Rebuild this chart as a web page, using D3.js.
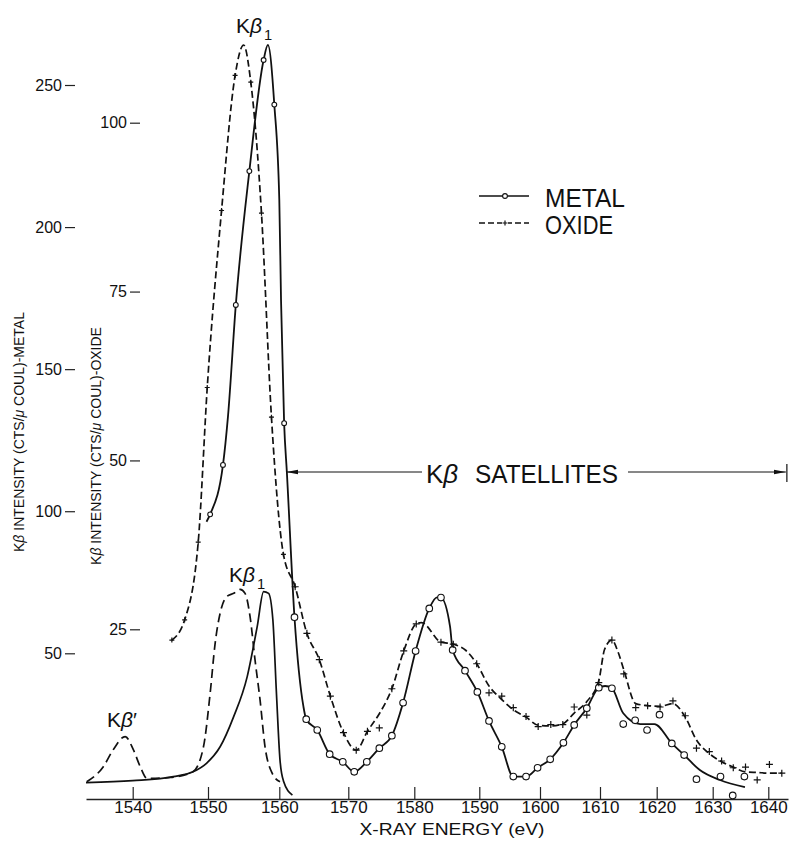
<!DOCTYPE html>
<html>
<head>
<meta charset="utf-8">
<script src="https://cdn.jsdelivr.net/npm/d3@7"></script>
<style>
  body { margin: 0; background: #fff; }
  text { font-family: "Liberation Sans", Arial, sans-serif; fill: #111; }
</style>
</head>
<body>
<div id="chart"></div>
<script>
var width = 791, height = 841;

// tick labels
var energyTicks = [1540, 1550, 1560, 1570, 1580, 1590, 1600, 1610, 1620, 1630, 1640];
var metalTicks = [50, 100, 150, 200, 250];
var oxideTicks = [25, 50, 75, 100];

// metal, satellite scan (cts / uCoul) - drawn curve
var metalCurveE = [1549.8, 1550.3, 1552.1, 1552.8, 1553.9, 1555.8, 1557.8, 1558.4, 1559.3, 1560.0, 1560.25, 1560.7, 1561.1,
  1562.2, 1563.5, 1563.9, 1565.5, 1567.3, 1569.2, 1570.9, 1572.8, 1574.7, 1576.6, 1578.3, 1580.2, 1582.3, 1583.5, 1584.1,
  1585.5, 1585.9, 1587.8, 1589.7, 1591.6, 1593.7, 1595.6, 1597.7, 1599.6, 1601.7, 1603.9, 1605.7, 1607.8, 1609.8, 1610.9,
  1612.1, 1614.1, 1617.1, 1619.6, 1622.7, 1624.9, 1627.7, 1631.3, 1635.8];
var metalCurveI = [96.3, 98.9, 116.3, 133.3, 172.6, 219.7, 258.8, 264.1, 243.1, 209.5, 174.3, 131.0, 113.6,
  62.7, 31.2, 26.8, 23.0, 14.5, 11.8, 8.3, 11.8, 16.6, 21.0, 32.6, 50.8, 65.8, 69.7, 69.6,
  59.4, 51.2, 43.9, 36.4, 26.2, 17.1, 6.6, 6.6, 9.7, 12.7, 18.5, 24.8, 30.7, 37.9, 38.5,
  37.7, 28.9, 25.1, 25.1, 18.3, 14.2, 8.9, 5.4, 2.9];

// metal, measured points
var metalPointE = [1550.3, 1552.1, 1553.9, 1555.8, 1557.8, 1559.3, 1560.7, 1562.2, 1563.9, 1565.5, 1567.3, 1569.2, 1570.9,
  1572.8, 1574.7, 1576.6, 1578.3, 1580.2, 1582.3, 1584.1, 1585.9, 1587.8, 1589.7, 1591.6, 1593.7, 1595.6, 1597.7, 1599.6,
  1601.7, 1603.9, 1605.7, 1607.8, 1609.8, 1612.1, 1614.1, 1616.2, 1618.3, 1620.5, 1622.7, 1624.9, 1627.1, 1631.4, 1633.6, 1635.7];
var metalPointI = [98.9, 116.3, 172.6, 219.7, 258.8, 243.1, 131.0, 62.7, 26.8, 23.0, 14.5, 11.8, 8.3,
  11.8, 16.6, 21.0, 32.6, 50.8, 65.8, 69.6, 51.2, 43.9, 36.4, 26.2, 17.1, 6.6, 6.6, 9.7,
  12.7, 18.5, 24.8, 30.7, 37.9, 37.7, 25.1, 26.4, 23.0, 28.4, 18.3, 14.2, 5.7, 6.6, 0.0, 6.6];

// oxide, satellite scan (cts / uCoul) - drawn curve
var oxideCurveE = [1545.2, 1546.9, 1548.7, 1549.9, 1551.9, 1553.8, 1555.0, 1556.0, 1557.5, 1558.9, 1560.6, 1562.3, 1564.0,
  1565.8, 1567.4, 1569.3, 1571.2, 1572.9, 1574.7, 1576.6, 1578.4, 1580.3, 1581.1, 1584.1, 1586.0, 1587.9, 1589.6, 1591.6,
  1593.7, 1595.6, 1597.7, 1599.7, 1601.8, 1603.8, 1605.7, 1607.8, 1609.8, 1610.8, 1612.1, 1613.2, 1614.2, 1616.3, 1618.4,
  1620.6, 1622.9, 1625.1, 1627.1, 1629.4, 1631.6, 1633.7, 1635.9, 1638.0, 1640.2, 1642.4];
var oxideCurveI = [23.4, 26.4, 37.9, 60.8, 87.0, 107.0, 111.5, 106.0, 86.6, 56.4, 36.1, 31.3, 24.4,
  20.5, 15.1, 9.7, 7.1, 9.9, 12.5, 16.2, 21.8, 25.8, 26.0, 23.1, 22.8, 21.9, 19.9, 16.6,
  14.6, 13.1, 12.0, 10.8, 10.7, 11.0, 12.6, 14.3, 17.4, 22.0, 23.4, 21.6, 19.0, 14.0, 13.7,
  13.6, 14.0, 12.0, 8.6, 6.6, 5.4, 4.6, 3.9, 3.8, 3.7, 3.7];

// oxide, measured points
var oxidePointE = [1545.2, 1546.9, 1548.7, 1549.9, 1551.9, 1553.8, 1556.0, 1557.5, 1558.9, 1560.6, 1562.3, 1564.0, 1565.8,
  1567.4, 1569.3, 1571.2, 1572.9, 1574.7, 1576.6, 1578.4, 1580.3, 1584.1, 1586.0, 1589.6, 1591.6, 1593.7, 1595.6, 1597.7,
  1599.7, 1601.8, 1603.8, 1605.7, 1607.8, 1609.8, 1612.1, 1614.2, 1616.3, 1618.4, 1620.6, 1622.9, 1625.1, 1627.1, 1629.4,
  1631.6, 1633.7, 1635.9, 1638.0, 1640.2, 1642.4];
var oxidePointI = [23.4, 26.4, 37.9, 60.8, 87.0, 107.0, 106.0, 86.6, 56.4, 36.1, 31.3, 24.4, 20.5,
  15.1, 9.7, 7.1, 9.9, 10.4, 16.2, 21.8, 25.8, 23.1, 22.8, 19.9, 15.6, 15.1, 13.4, 12.1,
  10.6, 10.9, 10.9, 13.5, 12.3, 17.1, 23.4, 18.4, 13.4, 13.7, 13.5, 14.4, 12.2, 7.4, 6.9,
  5.5, 4.5, 4.6, 2.7, 5.0, 3.7];

// whole K-beta spectra at reduced scale (lower curves, metal units)
var metalFullE = [1533.8, 1540.0, 1545.4, 1548.0, 1549.8, 1551.7, 1553.6, 1555.5, 1556.9, 1557.8, 1558.5, 1559.1,
  1559.6, 1560.1, 1560.6, 1561.9];
var metalFullI = [4.5, 5.2, 6.6, 8.3, 11.3, 17.1, 27.7, 41.8, 59.4, 71.7, 71.1, 61.7,
  35.9, 12.5, 5.1, 0.1];
var oxideFullE = [1533.9, 1536.1, 1537.4, 1539.0, 1540.1, 1541.0, 1541.9, 1545.0, 1548.0, 1549.4, 1550.3, 1551.0,
  1551.7, 1552.6, 1553.6, 1554.5, 1555.2, 1555.9, 1556.6, 1557.3, 1558.0, 1559.0, 1560.1];
var oxideFullI = [4.8, 10.1, 16.0, 20.7, 16.0, 10.1, 6.0, 6.3, 8.3, 17.1, 35.9, 53.5,
  64.1, 69.9, 71.1, 72.5, 71.1, 62.9, 47.6, 33.6, 17.1, 7.8, 4.8];

var satellitesRange = [1561, 1643.3];

var svg = d3.select("#chart").append("svg").attr("width", width).attr("height", height);

// the printed energy axis is slightly stretched at the low end, so map it piece by piece
var x = d3.scaleLinear()
    .domain([1533.8].concat(energyTicks, [1643.5]))
    .range([86, 132.7, 208, 279.3, 348.3, 414.3, 479.3, 540, 600, 656.7, 712.7, 768.3, 788]);
var yMetal = d3.scaleLinear().domain([50, 250]).range([653.3, 85]);
var yOxide = d3.scaleLinear().domain([25, 100]).range([629.3, 122.7]);

// x axis
var xAxis = svg.append("g")
    .attr("transform", "translate(0,799)")
    .call(d3.axisBottom(x).tickValues(energyTicks).tickSize(-12).tickSizeOuter(0).tickPadding(2).tickFormat(d3.format("d")));
xAxis.select(".domain").attr("stroke", "#222").attr("stroke-width", 1.6);
xAxis.selectAll(".tick line").attr("stroke", "#222").attr("stroke-width", 1.2);
xAxis.selectAll(".tick text").attr("font-size", 17).attr("fill", "#111")
    .style("font-family", "'Liberation Sans', Arial, sans-serif");

// y axes: bare ticks, no axis line
function yAxis(scale, ticks, xpos, size) {
  var g = svg.append("g")
      .attr("transform", "translate(" + xpos + ",0)")
      .call(d3.axisLeft(scale).tickValues(ticks).tickSize(10).tickPadding(3));
  g.select(".domain").remove();
  g.selectAll(".tick line").attr("stroke", "#222").attr("stroke-width", 1.2);
  g.selectAll(".tick text").attr("font-size", size).attr("fill", "#111")
      .style("font-family", "'Liberation Sans', Arial, sans-serif");
}
yAxis(yMetal, metalTicks, 75, 16);
yAxis(yOxide, oxideTicks, 140, 16);

// axis titles
function vTitle(cx, cy, tail) {
  var t = svg.append("text")
      .attr("transform", "translate(" + cx + "," + cy + ") rotate(-90)")
      .attr("text-anchor", "middle")
      .attr("font-size", 14);
  t.append("tspan").text("K");
  t.append("tspan").attr("font-style", "italic").text("β");
  t.append("tspan").text(" INTENSITY (CTS/");
  t.append("tspan").attr("font-style", "italic").text("μ");
  t.append("tspan").text(" COUL)-" + tail);
}
vTitle(24, 432, "METAL");
vTitle(101, 446, "OXIDE");

svg.append("text")
    .attr("x", 452).attr("y", 835)
    .attr("text-anchor", "middle")
    .attr("font-size", 17)
    .attr("textLength", 185).attr("lengthAdjust", "spacingAndGlyphs")
    .text("X-RAY ENERGY (eV)");

// curves
function line(yScale) {
  return d3.line()
      .x(function(d) { return x(d[0]); })
      .y(function(d) { return yScale(d[1]); })
      .curve(d3.curveMonotoneX);
}

svg.append("path")
    .datum(d3.zip(metalFullE, metalFullI))
    .attr("d", line(yMetal))
    .attr("fill", "none").attr("stroke", "#111").attr("stroke-width", 1.7);
svg.append("path")
    .datum(d3.zip(oxideFullE, oxideFullI))
    .attr("d", line(yMetal))
    .attr("fill", "none").attr("stroke", "#111").attr("stroke-width", 1.7)
    .attr("stroke-dasharray", "9,5");

svg.append("path")
    .datum(d3.zip(metalCurveE, metalCurveI))
    .attr("d", line(yMetal))
    .attr("fill", "none").attr("stroke", "#111").attr("stroke-width", 1.8);
svg.append("path")
    .datum(d3.zip(oxideCurveE, oxideCurveI))
    .attr("d", line(yOxide))
    .attr("fill", "none").attr("stroke", "#111").attr("stroke-width", 1.7)
    .attr("stroke-dasharray", "7,3.5");

// markers (smaller up on the main peak, as drawn)
svg.append("g").selectAll("circle")
    .data(d3.zip(metalPointE, metalPointI))
    .enter().append("circle")
      .attr("cx", function(d) { return x(d[0]); })
      .attr("cy", function(d) { return yMetal(d[1]); })
      .attr("r", function(d) { return d[0] < 1562 ? 2.4 : 3.3; })
      .attr("fill", "#fff").attr("stroke", "#111").attr("stroke-width", 1.1);

svg.append("g").selectAll("path")
    .data(d3.zip(oxidePointE, oxidePointI))
    .enter().append("path")
      .attr("transform", function(d) { return "translate(" + x(d[0]) + "," + yOxide(d[1]) + ")"; })
      .attr("d", function(d) { var a = d[0] < 1562 ? 2.5 : 3.5; return "M" + (-a) + ",0H" + a + "M0," + (-a) + "V" + a; })
      .attr("fill", "none").attr("stroke", "#111").attr("stroke-width", 1.2);

// peak labels
function kbLabel(px, py, size, sub) {
  var t = svg.append("text").attr("x", px).attr("y", py).attr("font-size", size);
  t.append("tspan").text("K");
  t.append("tspan").attr("font-style", "italic").text("β");
  if (sub === "1") {
    t.append("tspan").attr("font-size", size * 0.7).attr("dy", size * 0.33).attr("dx", 2).text("1");
  } else {
    t.append("tspan").text(sub);
  }
  return t;
}
kbLabel(236, 33, 21, "1");
kbLabel(229, 582, 21, "1");
kbLabel(107, 727, 21, "′");

// satellites arrow
var arrowY = 472;
var defs = svg.append("defs");
defs.append("marker")
    .attr("id", "arrow")
    .attr("viewBox", "0 0 12 6")
    .attr("refX", 12).attr("refY", 3)
    .attr("markerWidth", 12).attr("markerHeight", 6)
    .attr("markerUnits", "userSpaceOnUse")
    .attr("orient", "auto")
  .append("path")
    .attr("d", "M0,0.8L12,3L0,5.2Z")
    .attr("fill", "#111");

svg.append("line")
    .attr("x1", 422).attr("x2", x(satellitesRange[0]))
    .attr("y1", arrowY).attr("y2", arrowY)
    .attr("stroke", "#111").attr("stroke-width", 1)
    .attr("marker-end", "url(#arrow)");
svg.append("line")
    .attr("x1", 628).attr("x2", x(satellitesRange[1]) - 1)
    .attr("y1", arrowY).attr("y2", arrowY)
    .attr("stroke", "#111").attr("stroke-width", 1)
    .attr("marker-end", "url(#arrow)");
svg.append("line")
    .attr("x1", x(satellitesRange[1])).attr("x2", x(satellitesRange[1]))
    .attr("y1", arrowY - 8).attr("y2", arrowY + 10)
    .attr("stroke", "#111").attr("stroke-width", 1.2);

var sat = svg.append("text").attr("x", 426).attr("y", 483).attr("font-size", 26);
sat.append("tspan").text("K");
sat.append("tspan").attr("font-style", "italic").text("β");
svg.append("text").attr("x", 475).attr("y", 483).attr("font-size", 26)
    .attr("textLength", 143).attr("lengthAdjust", "spacingAndGlyphs")
    .text("SATELLITES");

// legend
var legend = svg.append("g");
legend.append("line").attr("x1", 479).attr("x2", 529).attr("y1", 196).attr("y2", 196)
    .attr("stroke", "#111").attr("stroke-width", 1.6);
legend.append("circle").attr("cx", 505).attr("cy", 196).attr("r", 2.4)
    .attr("fill", "#fff").attr("stroke", "#111").attr("stroke-width", 1.1);
legend.append("text").attr("x", 545).attr("y", 207).attr("font-size", 25)
    .attr("textLength", 80).attr("lengthAdjust", "spacingAndGlyphs").text("METAL");

legend.append("line").attr("x1", 479).attr("x2", 529).attr("y1", 223).attr("y2", 223)
    .attr("stroke", "#111").attr("stroke-width", 1.6).attr("stroke-dasharray", "6,3");
legend.append("path").attr("d", "M502,223H508M505,220V226")
    .attr("stroke", "#fff").attr("stroke-width", 3);
legend.append("path").attr("d", "M502.5,223H507.5M505,220.5V225.5")
    .attr("stroke", "#111").attr("stroke-width", 1.2);
legend.append("text").attr("x", 545).attr("y", 234).attr("font-size", 25)
    .attr("textLength", 68).attr("lengthAdjust", "spacingAndGlyphs").text("OXIDE");
</script>
</body>
</html>
